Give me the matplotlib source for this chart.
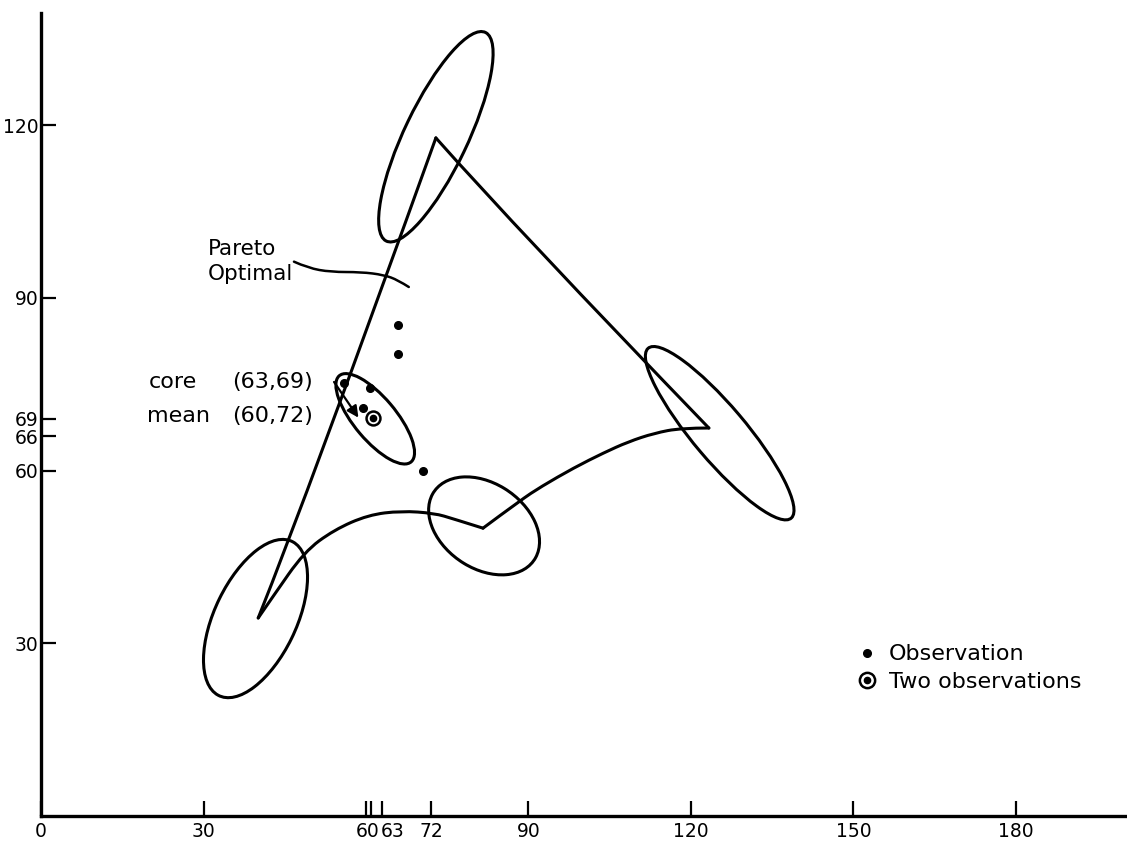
import numpy as np
import matplotlib.pyplot as plt
from matplotlib.patches import Ellipse, PathPatch
from matplotlib.path import Path
from matplotlib.lines import Line2D

# single observations
obsX = [65.9, 65.9, 55.9, 60.7, 59.4, 70.5]
obsY = [85.3, 80.3, 75.2, 74.4, 70.9, 59.9]
# the point that holds two observations
doubleX = [61.3]
doubleY = [69.2]

# sides of the hand drawn triangle
leftSideX = [40.1, 49.5, 72.9]
leftSideY = [34.4, 56.5, 117.8]
topSideX = [72.9, 88.0, 123.3]
topSideY = [117.8, 101.8, 67.4]
rightCurveX = [123.3, 118.2, 113.2, 108.4, 103.9, 98.4, 92.3, 88.6, 81.6]
rightCurveY = [67.4, 67.4, 66.5, 65.0, 63.1, 60.5, 57.2, 54.9, 50.0]
bottomCurveX = [81.6, 76.2, 72.6, 66.5, 60.4, 54.1, 48.6, 42.8, 40.1]
bottomCurveY = [50.0, 51.6, 52.6, 53.0, 52.3, 49.7, 45.9, 38.1, 34.4]

# leader line of the "Pareto Optimal" label
paretoX = [46.7, 49.3, 53.5, 59.1, 63.3, 65.9, 67.9]
paretoY = [96.3, 95.2, 94.5, 94.5, 94.0, 93.1, 91.9]

# ellipses: centre, semi axes, angle (deg)
ellCx = [72.9, 125.3, 81.8, 39.6, 61.7]
ellCy = [118.0, 66.5, 50.4, 34.3, 69.0]
ellA = [20.3, 19.8, 11.0, 15.0, 10.0]
ellB = [5.8, 4.8, 7.5, 7.5, 3.8]
ellAngle = [63, -48, -30, 62.5, -48]

xTicks = [0, 30, 60, 61, 63, 72, 90, 120, 150, 180]
xTickLabels = ['0', '30', '', '', '', '72', '90', '120', '150', '180']
yTicks = [30, 60, 66, 69, 90, 120]
yTickLabels = ['30', '60', '66', '69', '90', '120']

lineW = 2.2
tickFont = 13.5
textFont = 16


def smoothPath(xs, ys):
    # quadratic curve pieces through the midpoints, so the pen line has no kinks
    pts = list(zip(xs, ys))
    verts = [pts[0]]
    codes = [Path.MOVETO]
    for i in range(1, len(pts) - 1):
        if i == len(pts) - 2:
            end = pts[-1]
        else:
            end = ((pts[i][0] + pts[i + 1][0]) / 2, (pts[i][1] + pts[i + 1][1]) / 2)
        verts += [pts[i], end]
        codes += [Path.CURVE3, Path.CURVE3]
    if len(pts) == 2:
        verts.append(pts[1])
        codes.append(Path.LINETO)
    return Path(verts, codes)


fig = plt.figure(figsize=(11.27, 8.44), dpi=100)
ax = fig.add_axes([0.0364, 0.0332, 0.9636, 0.9514])

for xs, ys in [(leftSideX, leftSideY), (topSideX, topSideY),
               (rightCurveX, rightCurveY), (bottomCurveX, bottomCurveY)]:
    ax.add_patch(PathPatch(smoothPath(xs, ys), fill=False, edgecolor='k', lw=lineW,
                           capstyle='round', joinstyle='round'))

ax.add_patch(PathPatch(smoothPath(paretoX, paretoY), fill=False, edgecolor='k',
                       lw=1.8, capstyle='round'))

for cx, cy, a, b, ang in zip(ellCx, ellCy, ellA, ellB, ellAngle):
    ax.add_patch(Ellipse((cx, cy), 2 * a, 2 * b, angle=ang, fill=False,
                         edgecolor='k', lw=lineW))

ax.plot(obsX, obsY, ls='none', marker='o', ms=5.5, color='k')
ax.plot(doubleX, doubleY, ls='none', marker='o', ms=10, mfc='white', mec='k', mew=1.8)
ax.plot(doubleX, doubleY, ls='none', marker='o', ms=4.5, color='k')

# labels
ax.text(30.8, 97.5, 'Pareto', fontsize=15.5, va='baseline')
ax.text(30.8, 93.1, 'Optimal', fontsize=15.5, va='baseline')
ax.text(19.9, 75.4, 'core', fontsize=textFont, va='center')
ax.text(35.2, 75.4, '(63,69)', fontsize=textFont, va='center')
ax.text(19.6, 69.5, 'mean', fontsize=textFont, va='center')
ax.text(35.2, 69.5, '(60,72)', fontsize=textFont, va='center')
ax.annotate('', xy=(58.6, 69.2), xytext=(54.1, 75.4),
            arrowprops=dict(arrowstyle='-|>', color='k', lw=1.6,
                            mutation_scale=17, shrinkA=0, shrinkB=0))

# key
h1 = Line2D([], [], ls='none', marker='o', ms=5.5, color='k')
h2a = Line2D([], [], ls='none', marker='o', ms=11, mfc='white', mec='k', mew=1.8)
h2b = Line2D([], [], ls='none', marker='o', ms=4.5, color='k')
ax.legend([h1, (h2a, h2b)], ['Observation', 'Two observations'],
          loc='center left', bbox_to_anchor=(0.752, 0.184), frameon=False,
          fontsize=16, handlelength=0.8, handletextpad=0.6, labelspacing=0.35,
          borderpad=0, borderaxespad=0)

ax.set_xlim(0, 200.5)
ax.set_ylim(0, 139.5)
ax.set_xticks(xTicks)
ax.set_xticklabels(xTickLabels)
ax.set_yticks(yTicks)
ax.set_yticklabels(yTickLabels)
ax.text(60.3, -0.019, '60', fontsize=tickFont, ha='center', va='center',
        transform=ax.get_xaxis_transform())
ax.text(65.0, -0.019, '63', fontsize=tickFont, ha='center', va='center',
        transform=ax.get_xaxis_transform())
ax.tick_params(direction='in', length=11, width=1.6, labelsize=tickFont, color='k')
ax.tick_params(axis='x', pad=4)
ax.tick_params(axis='y', pad=2)

for side in ['top', 'right']:
    ax.spines[side].set_visible(False)
for side in ['left', 'bottom']:
    ax.spines[side].set_linewidth(2.4)

fig.savefig('out.png', dpi=100)
